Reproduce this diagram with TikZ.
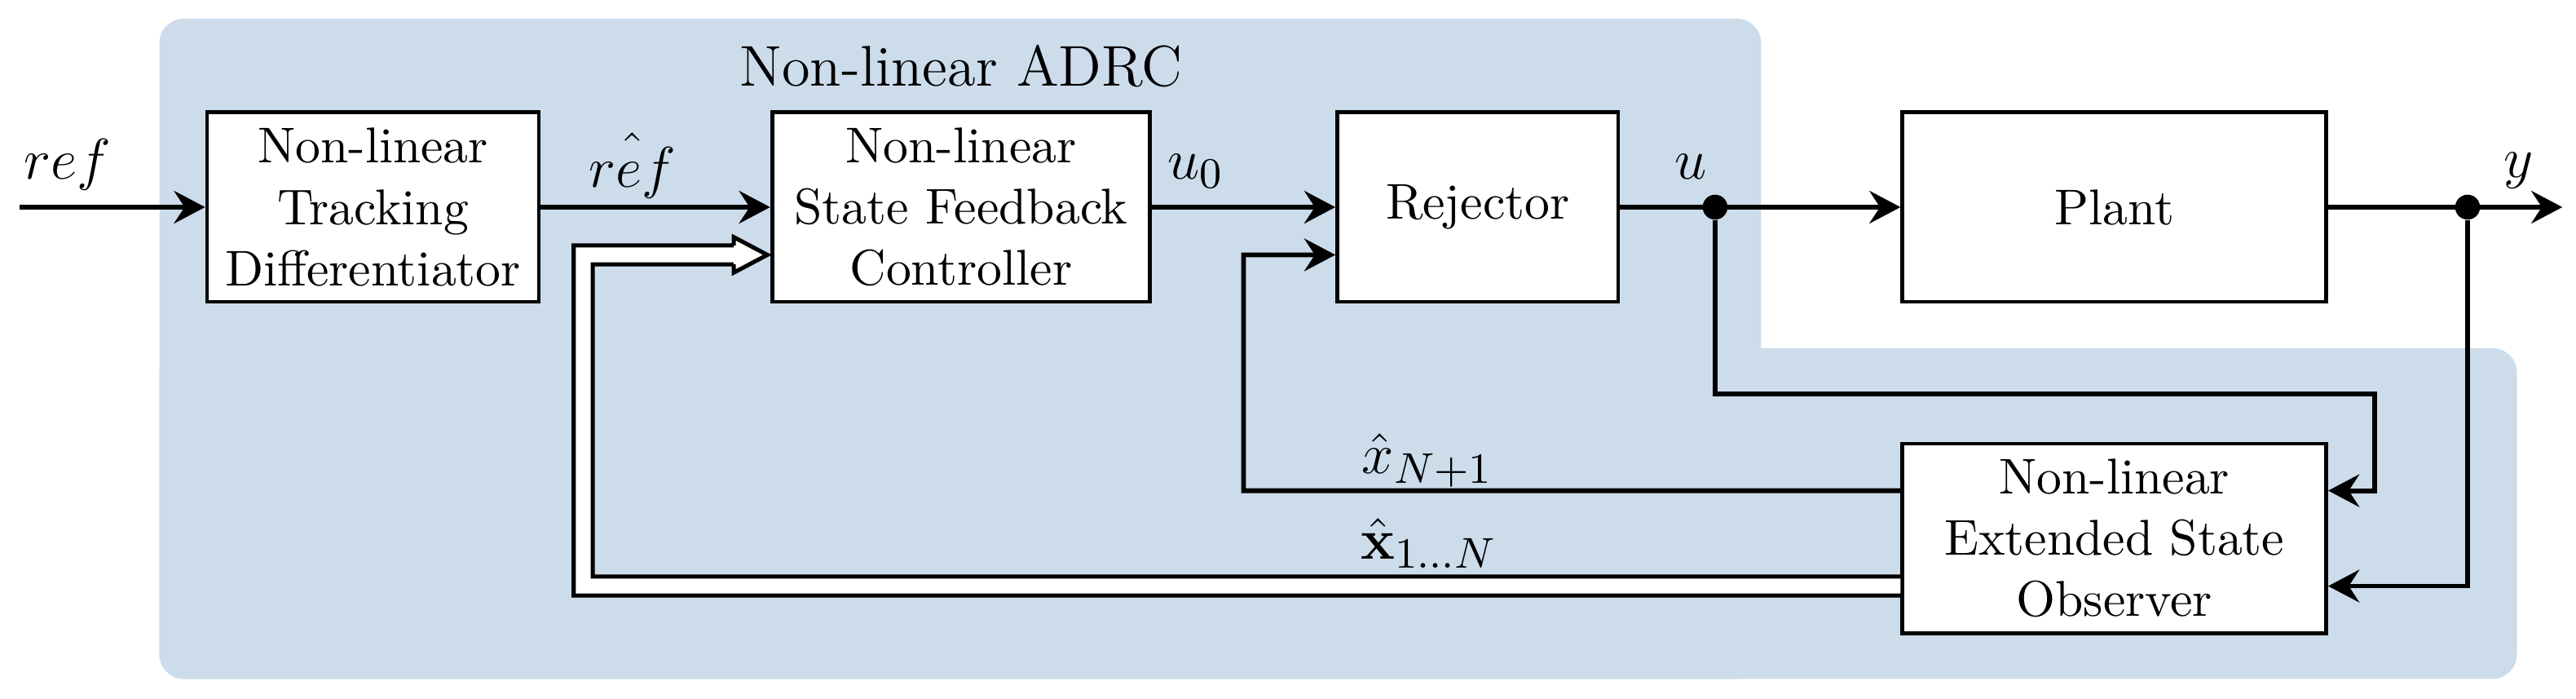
\documentclass[tikz,border=0pt]{standalone}
\usetikzlibrary{arrows.meta}
\definecolor{adrcblue}{RGB}{204,220,234}

\begin{document}
\begin{tikzpicture}[
    block/.style={draw, line width=0.8pt, fill=white, minimum width=#1, minimum height=1.39cm,
        align=center, inner sep=1pt, font=\fontsize{10.5}{12.8}\selectfont},
    sig/.style={line width=1pt, -{Stealth[length=6.5pt,width=6.8pt,inset=2.2pt]}},
    bus/.style={double=white, double distance=3.1pt, line width=0.86pt},
    bushead/.style={draw, fill=white, line width=0.86pt},
    junction/.style={circle, fill, inner sep=0pt, minimum size=5.2pt},
    lbl/.style={anchor=base, font=\fontsize{13}{15}\selectfont}
]
    \useasboundingbox (0,-3.606) rectangle (18.91,1.52);

    % Shaded area of the controller
    \fill[adrcblue, rounded corners=0.18cm] (1.17,-3.461) rectangle (12.928,1.383);
    \fill[adrcblue, rounded corners=0.18cm] (1.17,-3.461) rectangle (18.476,-1.034);
    \node[anchor=base, font=\fontsize{12}{14}\selectfont] (title) at (7.055,0.89) {Non-linear ADRC};

    % Define the blocks
    \node[block=2.436cm] (td) at (2.738,0) {Non-linear\\Tracking\\Differentiator};
    \node[block=2.774cm] (sfc) at (7.055,0) {Non-linear\\State Feedback\\Controller};
    \node[block=2.062cm] (rej) at (10.848,0) {Rejector};
    \node[block=3.111cm] (plant) at (15.521,0) {Plant};
    \node[block=3.111cm] (eso) at (15.521,-2.43) {Non-linear\\Extended State\\Observer};

    % Define the points of the wiring
    \coordinate (in) at (0.145,0);
    \coordinate (out) at (18.81,0);
    \node[junction] (du) at (12.59,0) {};
    \node[junction] (dy) at (18.114,0) {};
    \coordinate (ub) at (17.43,-1.372);
    \coordinate (xk) at (9.129,-0.35);
    \coordinate (xv) at (4.281,-0.35);
    \coordinate (bt) at ([xshift=-0.6pt,yshift=-3.5mm]sfc.west);

    % Draw the forward path
    \draw[sig] (in) -- (td);
    \draw[sig] (td) -- (sfc);
    \draw[sig] (sfc) -- (rej);
    \draw[sig] (rej) -- (plant);
    \draw[sig] (plant) -- (out);

    % Draw the observer feedback
    \draw[sig] (du) |- (ub) |- ([yshift=3.5mm]eso.east);
    \draw[sig] (dy) |- ([yshift=-3.5mm]eso.east);
    \draw[sig] ([yshift=3.5mm]eso.west) -| (xk) -- ([yshift=-3.5mm]rej.west);
    \draw[bus] ([yshift=-3.5mm]eso.west) -| (xv) -- ([xshift=-7pt]bt);
    \path[bushead] ([shift={(-7pt,1.98pt)}]bt) -- ([shift={(-7pt,3.7pt)}]bt) -- (bt)
        -- ([shift={(-7pt,-3.7pt)}]bt) -- ([shift={(-7pt,-1.98pt)}]bt);

    % Place the signal labels
    \node[lbl] (lref) at (0.494,0.205) {$ref$};
    \node[lbl] (lrefh) at (4.643,0.145) {$\hat{ref}$};
    \node[lbl] (lu0) at (8.78,0.205) {$u_0$};
    \node[lbl] (lu) at (12.41,0.205) {$u$};
    \node[lbl] (ly) at (18.49,0.217) {$y$};
    \node[lbl] (lxn) at (10.48,-1.954) {$\hat{x}_{N+1}$};
    \node[lbl] (lxb) at (10.49,-2.58) {$\hat{\mathbf{x}}_{1\ldots N}$};

\end{tikzpicture}
\end{document}
